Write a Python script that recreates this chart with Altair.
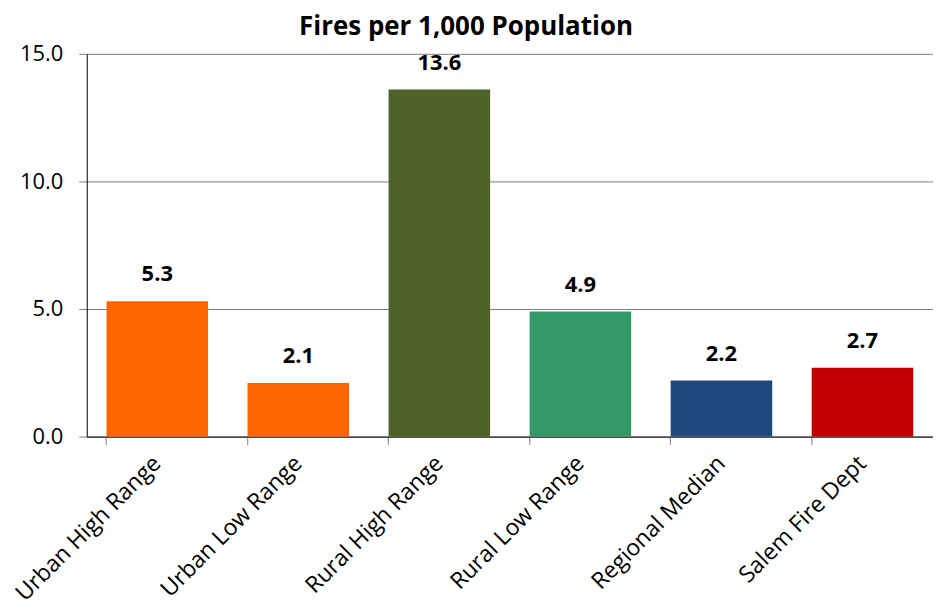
import altair as alt
import pandas as pd

categories = ["Urban High Range", "Urban Low Range", "Rural High Range",
              "Rural Low Range", "Regional Median", "Salem Fire Dept"]
values = [5.3, 2.1, 13.6, 4.9, 2.2, 2.7]
colors = ["#FF6600", "#FF6600", "#4F6228", "#339966", "#1F497D", "#C00000"]
y_ticks = [0, 5, 10, 15]

df = pd.DataFrame({"cat": categories, "val": values, "color": colors})

x = alt.X("cat:N", sort=categories, title=None,
          scale=alt.Scale(paddingInner=0.28, paddingOuter=0.14),
          axis=alt.Axis(labelAngle=-45, labelAlign="right", labelBaseline="middle",
                        labelFontSize=23, labelFont="Open Sans", labelColor="#000000",
                        labelPadding=15, tickSize=8, tickColor="#808080", bandPosition=0,
                        domainColor="#000000", labelLimit=400))
y = alt.Y("val:Q", title=None,
          scale=alt.Scale(domain=[0, 15], nice=False),
          axis=alt.Axis(values=y_ticks, format=".1f", labelFontSize=22,
                        labelFont="Open Sans", labelColor="#000000", labelPadding=16,
                        tickSize=8, tickColor="#808080", domainColor="#000000",
                        gridColor="#808080", gridWidth=1, grid=True))

bars = alt.Chart(df).mark_bar().encode(
    x=x, y=y, color=alt.Color("color:N", scale=None))

text = alt.Chart(df).mark_text(dy=-20, baseline="alphabetic", fontSize=22,
                               fontWeight="bold", font="Open Sans",
                               color="#000000").encode(
    x=alt.X("cat:N", sort=categories), y=alt.Y("val:Q"),
    text=alt.Text("val:Q", format=".1f"))

chart = (bars + text).properties(
    width=849, height=384,
    title=alt.TitleParams("Fires per 1,000 Population", fontSize=26,
                          font="Open Sans", fontWeight="bold", color="#000000",
                          anchor="middle", dx=-44, offset=3),
    autosize=alt.AutoSizeParams(type="none"),
    padding={"left": 79, "top": 45, "right": 0, "bottom": 170},
).configure_view(stroke=None)

chart.save("out.html", embed_options={"renderer": "svg", "actions": False})
